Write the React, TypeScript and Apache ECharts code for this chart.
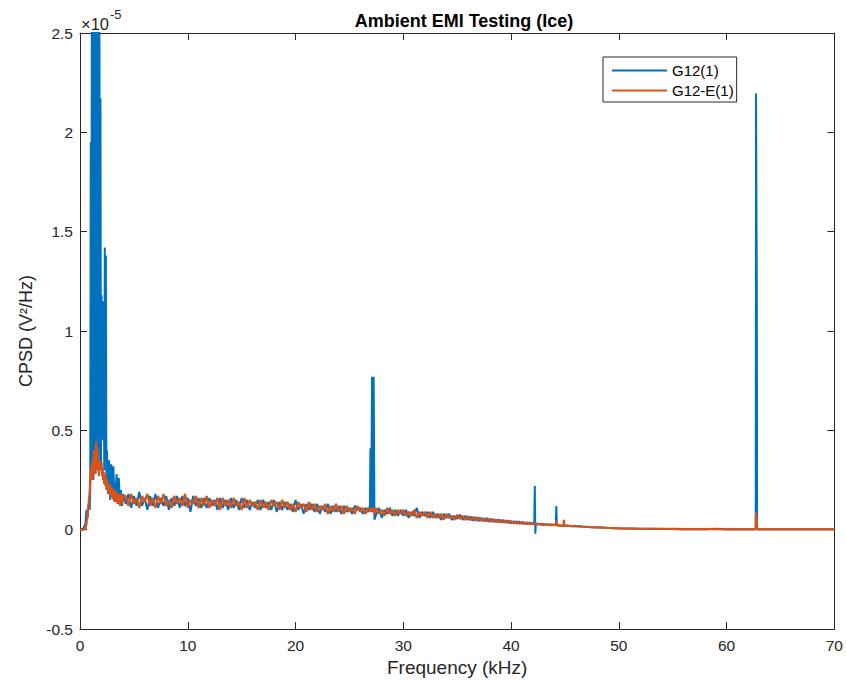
import React, { useEffect, useRef } from "react";
import * as echarts from "echarts";

// Frequencies in kHz, values in units of 1e-5 V^2/Hz
const freqRise = [0, 0.3, 0.5, 0.6, 0.7, 0.8, 0.9];
const blueRise = [0, 0.005, 0.03, 0.1, 0.06, 0.13, 0.1];
const orangeRise = [0, 0, 0.005, 0.03, 0.08, 0.13, 0.19];

const freqBurst = [0.95, 1.0, 1.05, 1.1, 1.15, 1.2, 1.25, 1.3, 1.35, 1.4, 1.45, 1.5, 1.55, 1.6, 1.65, 1.7, 1.75, 1.8, 1.85, 1.9];
const blueBurst = [0.2, 1.95, 0.3, 2.9, 0.28, 3.1, 0.25, 2.8, 0.3, 3.2, 0.28, 2.9, 0.35, 3.0, 0.3, 2.8, 0.3, 2.7, 0.4, 2.17];
const orangeBurst = [0.24, 0.3, 0.26, 0.33, 0.25, 0.36, 0.3, 0.4, 0.28, 0.37, 0.3, 0.445, 0.3, 0.42, 0.3, 0.36, 0.27, 0.34, 0.3, 0.33];

const freqTail = [1.95, 2.0, 2.05, 2.1, 2.15, 2.2, 2.25, 2.3, 2.35, 2.4, 2.45, 2.5];
const blueTail = [0.3, 1.18, 0.73, 1.15, 0.45, 1.0, 0.3, 1.42, 0.35, 1.38, 0.22, 0.4];
const orangeTail = [0.3, 0.34, 0.27, 0.31, 0.25, 0.29, 0.23, 0.28, 0.22, 0.27, 0.2, 0.25];

const freqShoulder = [2.6, 2.7, 2.8, 2.9, 3.0, 3.1, 3.2, 3.3, 3.4, 3.5, 3.6, 3.7, 3.8, 3.9, 4.0];
const blueShoulder = [0.18, 0.35, 0.15, 0.33, 0.16, 0.32, 0.14, 0.2, 0.28, 0.13, 0.26, 0.15, 0.2, 0.12, 0.18];
const orangeShoulder = [0.22, 0.18, 0.23, 0.16, 0.21, 0.15, 0.2, 0.14, 0.19, 0.13, 0.18, 0.12, 0.18, 0.13, 0.17];

const freqFloor1 = [
  4.25, 4.5, 4.75, 5, 5.25, 5.5, 5.75, 6, 6.25, 6.5,
  6.75, 7, 7.25, 7.5, 7.75, 8, 8.25, 8.5, 8.75, 9,
  9.25, 9.5, 9.75, 10, 10.25, 10.5, 10.75, 11, 11.25, 11.5,
  11.75, 12, 12.25, 12.5, 12.75, 13, 13.25, 13.5, 13.75, 14,
  14.25, 14.5, 14.75, 15, 15.25, 15.5, 15.75, 16, 16.25, 16.5,
  16.75, 17, 17.25, 17.5, 17.75, 18, 18.25, 18.5, 18.75, 19,
  19.25, 19.5, 19.75, 20, 20.25, 20.5, 20.75, 21, 21.25, 21.5,
  21.75, 22, 22.25, 22.5, 22.75, 23, 23.25, 23.5, 23.75, 24,
  24.25, 24.5, 24.75, 25, 25.25, 25.5, 25.75, 26, 26.25, 26.5, 26.75,
];
const blueFloor1 = [
  0.13, 0.18, 0.11, 0.17, 0.12, 0.19, 0.12, 0.16, 0.10, 0.17,
  0.12, 0.18, 0.11, 0.16, 0.12, 0.17, 0.10, 0.16, 0.12, 0.17,
  0.11, 0.17, 0.12, 0.16, 0.09, 0.17, 0.12, 0.16, 0.11, 0.16,
  0.11, 0.16, 0.12, 0.15, 0.10, 0.16, 0.11, 0.15, 0.10, 0.16,
  0.11, 0.15, 0.10, 0.16, 0.11, 0.15, 0.10, 0.14, 0.11, 0.15,
  0.10, 0.15, 0.11, 0.14, 0.10, 0.15, 0.09, 0.14, 0.10, 0.14,
  0.10, 0.13, 0.09, 0.15, 0.10, 0.13, 0.08, 0.13, 0.10, 0.13,
  0.09, 0.13, 0.08, 0.12, 0.09, 0.13, 0.08, 0.12, 0.09, 0.12,
  0.08, 0.12, 0.09, 0.11, 0.08, 0.12, 0.10, 0.11, 0.08, 0.11, 0.09,
];
const orangeFloor1 = [
  0.17, 0.12, 0.18, 0.13, 0.16, 0.11, 0.17, 0.14, 0.18, 0.12,
  0.16, 0.11, 0.17, 0.13, 0.18, 0.12, 0.15, 0.11, 0.17, 0.13,
  0.16, 0.12, 0.18, 0.11, 0.15, 0.13, 0.17, 0.11, 0.16, 0.12,
  0.17, 0.11, 0.15, 0.12, 0.16, 0.10, 0.16, 0.12, 0.15, 0.11,
  0.16, 0.12, 0.14, 0.10, 0.16, 0.11, 0.15, 0.12, 0.14, 0.10,
  0.15, 0.11, 0.14, 0.10, 0.15, 0.12, 0.14, 0.10, 0.15, 0.11,
  0.14, 0.10, 0.13, 0.09, 0.14, 0.11, 0.13, 0.09, 0.14, 0.10,
  0.13, 0.09, 0.12, 0.10, 0.13, 0.08, 0.12, 0.09, 0.13, 0.09,
  0.12, 0.08, 0.12, 0.09, 0.11, 0.08, 0.12, 0.09, 0.11, 0.08, 0.11,
];

const freqPeak27 = [26.9, 26.95, 27.02, 27.1, 27.18, 27.25, 27.32];
const bluePeak27 = [0.12, 0.41, 0.09, 0.77, 0.1, 0.77, 0.05];
const orangePeak27 = [0.1, 0.09, 0.11, 0.1, 0.09, 0.11, 0.08];

const freqFloor2 = [
  27.5, 27.75, 28, 28.25, 28.5, 28.75, 29, 29.25, 29.5, 29.75,
  30, 30.25, 30.5, 30.75, 31, 31.25, 31.5, 31.75, 32, 32.25,
  32.5, 32.75, 33, 33.25, 33.5, 33.75, 34, 34.25, 34.5, 34.75,
  35, 35.25, 35.5, 35.75, 36, 36.25, 36.5, 36.75, 37, 37.25,
  37.5, 37.75, 38, 38.25, 38.5, 38.75, 39, 39.25, 39.5, 39.75,
  40, 40.25, 40.5, 40.75, 41, 41.25, 41.5, 41.75, 42,
];
const blueFloor2 = [
  0.08, 0.11, 0.06, 0.10, 0.08, 0.11, 0.07, 0.10, 0.07, 0.10,
  0.07, 0.10, 0.06, 0.09, 0.07, 0.11, 0.06, 0.09, 0.07, 0.09,
  0.06, 0.09, 0.06, 0.08, 0.05, 0.08, 0.06, 0.08, 0.05, 0.07,
  0.055, 0.075, 0.05, 0.07, 0.05, 0.066, 0.046, 0.063, 0.044, 0.06,
  0.043, 0.058, 0.04, 0.055, 0.039, 0.052, 0.037, 0.049, 0.035, 0.046,
  0.033, 0.043, 0.031, 0.041, 0.03, 0.038, 0.028, 0.036, 0.029,
];
const orangeFloor2 = [
  0.11, 0.08, 0.10, 0.07, 0.11, 0.08, 0.10, 0.07, 0.10, 0.08,
  0.10, 0.07, 0.09, 0.07, 0.10, 0.06, 0.09, 0.07, 0.09, 0.06,
  0.09, 0.06, 0.08, 0.06, 0.08, 0.05, 0.08, 0.06, 0.07, 0.05,
  0.075, 0.055, 0.07, 0.05, 0.068, 0.048, 0.065, 0.045, 0.062, 0.044,
  0.058, 0.042, 0.055, 0.04, 0.052, 0.038, 0.05, 0.036, 0.047, 0.034,
  0.044, 0.032, 0.042, 0.03, 0.04, 0.029, 0.037, 0.028, 0.034,
];

const freqPeak42 = [42.15, 42.2, 42.25, 42.3, 42.5, 42.75, 43.0, 43.25, 43.5, 43.75, 44.0];
const bluePeak42 = [0.03, 0.22, -0.02, 0.03, 0.026, 0.03, 0.024, 0.028, 0.023, 0.026, 0.022];
const orangePeak42 = [0.031, 0.035, 0.027, 0.03, 0.03, 0.026, 0.029, 0.025, 0.027, 0.023, 0.026];

const freqPeak44 = [44.15, 44.2, 44.25, 44.3, 44.5, 44.75, 44.85, 44.9, 44.95, 45.25, 45.5];
const bluePeak44 = [0.024, 0.12, 0.02, 0.025, 0.02, 0.021, 0.02, 0.025, 0.019, 0.02, 0.018];
const orangePeak44 = [0.024, 0.045, 0.02, 0.022, 0.022, 0.02, 0.02, 0.05, 0.02, 0.021, 0.019];

const freqDecay = [46, 46.5, 47, 47.5, 48, 48.5, 49, 49.5, 50, 51, 52, 53, 54, 55, 56, 57, 58, 59, 60, 61, 62];
const blueDecay = [0.017, 0.017, 0.014, 0.013, 0.011, 0.011, 0.009, 0.008, 0.007, 0.006, 0.005, 0.005, 0.004, 0.004, 0.003, 0.003, 0.003, 0.005, 0.002, 0.002, 0.002];
const orangeDecay = [0.018, 0.016, 0.015, 0.013, 0.012, 0.011, 0.009, 0.008, 0.007, 0.006, 0.005, 0.005, 0.004, 0.004, 0.003, 0.003, 0.003, 0.003, 0.002, 0.002, 0.002];

const freqPeak63 = [62.7, 62.73, 62.77, 62.8, 62.83, 64, 65, 66, 67, 68, 69, 70];
const bluePeak63 = [0.002, 2.195, 1.62, 1.26, 0.002, 0.002, 0.002, 0.002, 0.002, 0.003, 0.002, 0.002];
const orangePeak63 = [0.002, 0.085, 0.06, 0.04, 0.002, 0.002, 0.002, 0.002, 0.002, 0.002, 0.002, 0.002];

const xTicks = [0, 10, 20, 30, 40, 50, 60, 70];
const yTickLabels = ["-0.5", "0", "0.5", "1", "1.5", "2", "2.5"];

const freq = [
  ...freqRise, ...freqBurst, ...freqTail, ...freqShoulder, ...freqFloor1, ...freqPeak27,
  ...freqFloor2, ...freqPeak42, ...freqPeak44, ...freqDecay, ...freqPeak63,
];
const blue = [
  ...blueRise, ...blueBurst, ...blueTail, ...blueShoulder, ...blueFloor1, ...bluePeak27,
  ...blueFloor2, ...bluePeak42, ...bluePeak44, ...blueDecay, ...bluePeak63,
];
const orange = [
  ...orangeRise, ...orangeBurst, ...orangeTail, ...orangeShoulder, ...orangeFloor1, ...orangePeak27,
  ...orangeFloor2, ...orangePeak42, ...orangePeak44, ...orangeDecay, ...orangePeak63,
];

const zip = (xs: number[], ys: number[]) => {
  const n = Math.min(xs.length, ys.length);
  const out: number[][] = [];
  for (let i = 0; i < n; i++) out.push([xs[i], ys[i]]);
  return out;
};

const FONT = "'Liberation Sans', Arial, Helvetica, sans-serif";
const AX = "#262626";

export default function App() {
  const ref = useRef<HTMLDivElement>(null);
  useEffect(() => {
    if (!ref.current) return;
    const chart = echarts.init(ref.current, null, { renderer: "svg" });
    const axisCommon = {
      type: "value" as const,
      axisLine: { show: true, onZero: false, lineStyle: { color: AX, width: 1 } },
      axisTick: { show: true, inside: true, length: 7, lineStyle: { color: AX, width: 1 } },
      splitLine: { show: false },
    };
    chart.setOption({
      animation: false,
      backgroundColor: "#ffffff",
      textStyle: { fontFamily: FONT },
      title: {
        text: "Ambient EMI Testing (Ice)",
        left: 459,
        textAlign: "center",
        top: 7,
        textStyle: { fontFamily: FONT, fontSize: 18, fontWeight: "bold", color: "#000" },
      },
      grid: { left: 80, right: 8, top: 33, bottom: 50, containLabel: false },
      legend: {
        orient: "vertical",
        left: 603,
        top: 57,
        padding: [6, 3, 4, 9],
        borderColor: AX,
        borderWidth: 1,
        borderRadius: 0,
        backgroundColor: "#ffffff",
        itemWidth: 55,
        itemHeight: 2,
        itemGap: 5,
        icon: "rect",
        textStyle: { fontFamily: FONT, fontSize: 15, color: "#000", lineHeight: 15 },
        data: ["G12(1)", "G12-E(1)"],
      },
      xAxis: [
        {
          ...axisCommon,
          min: 0,
          max: 70,
          interval: 10,
          position: "bottom",
          name: "Frequency (kHz)",
          nameLocation: "middle",
          nameGap: 25,
          nameTextStyle: { fontFamily: FONT, fontSize: 19, color: AX },
          axisLabel: {
            show: true,
            margin: 8,
            fontFamily: FONT,
            fontSize: 15.5,
            color: AX,
            formatter: (v: number) => (xTicks.includes(v) ? String(v) : ""),
          },
        },
        {
          ...axisCommon,
          min: 0,
          max: 70,
          interval: 10,
          position: "top",
          axisLabel: { show: false },
        },
      ],
      yAxis: [
        {
          ...axisCommon,
          min: -0.5,
          max: 2.5,
          interval: 0.5,
          position: "left",
          name: "CPSD (V²/Hz)",
          nameLocation: "middle",
          nameGap: 41,
          nameTextStyle: { fontFamily: FONT, fontSize: 18, color: AX },
          axisLabel: {
            show: true,
            margin: 7,
            fontFamily: FONT,
            fontSize: 15.5,
            color: AX,
            formatter: (v: number) => {
              const idx = Math.round((v + 0.5) / 0.5);
              return yTickLabels[idx] ?? "";
            },
          },
        },
        {
          ...axisCommon,
          min: -0.5,
          max: 2.5,
          interval: 0.5,
          position: "right",
          axisLabel: { show: false },
        },
      ],
      graphic: [
        {
          type: "text",
          left: 81,
          top: 15,
          style: {
            text: "×10",
            fontFamily: FONT,
            fontSize: 16.5,
            fill: AX,
          },
        },
        {
          type: "text",
          left: 110,
          top: 8,
          style: {
            text: "-5",
            fontFamily: FONT,
            fontSize: 13,
            fill: AX,
          },
        },
      ],
      series: [
        {
          name: "G12(1)",
          type: "line",
          xAxisIndex: 0,
          yAxisIndex: 0,
          data: zip(freq, blue),
          showSymbol: false,
          symbol: "none",
          lineStyle: { color: "#0072BD", width: 2 },
          itemStyle: { color: "#0072BD" },
          clip: true,
          z: 2,
        },
        {
          name: "G12-E(1)",
          type: "line",
          xAxisIndex: 0,
          yAxisIndex: 0,
          data: zip(freq, orange),
          showSymbol: false,
          symbol: "none",
          lineStyle: { color: "#D95319", width: 2.2 },
          itemStyle: { color: "#D95319" },
          clip: true,
          z: 3,
        },
      ],
    });
    return () => chart.dispose();
  }, []);
  return <div ref={ref} style={{ width: 846, height: 682, position: "absolute", left: 0, top: 0 }} />;
}
